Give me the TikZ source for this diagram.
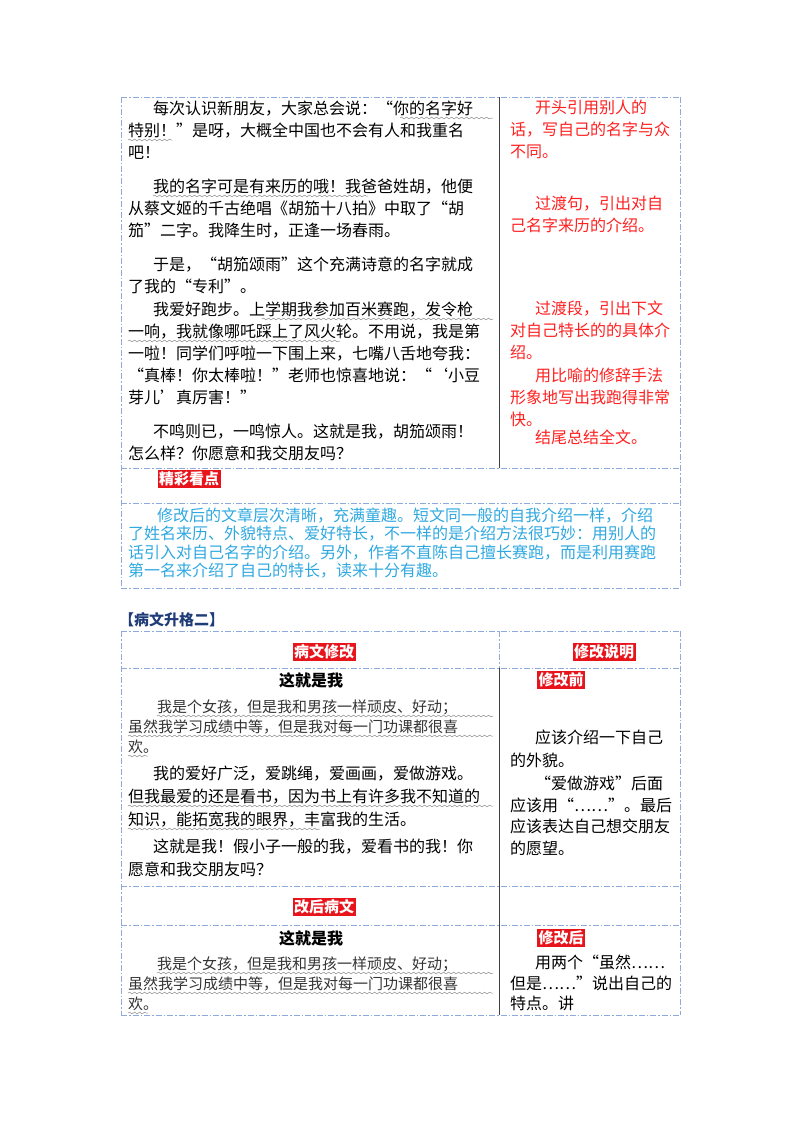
\documentclass[tikz,border=0pt]{standalone}
\usepackage{fontspec}
\setmainfont{Noto Sans CJK SC}
\usetikzlibrary{decorations.pathmorphing}
\XeTeXlinebreaklocale "zh"
\XeTeXlinebreakskip=0pt plus 8pt
\definecolor{bord}{HTML}{8EA9DB}
\definecolor{redtxt}{HTML}{FF2020}
\definecolor{bluetxt}{HTML}{2FA8E0}
\definecolor{labred}{HTML}{E8141C}
\definecolor{ttl}{HTML}{1F3C78}
\tikzset{
  bline/.style={draw=bord,line width=0.8pt,dash pattern=on 6pt off 2pt on 1.5pt off 2pt},
  vsolid/.style={draw=black!75,line width=0.8pt},
  txt/.style={inner sep=0pt,anchor=base west,font=\fontsize{16}{20}\selectfont},
  rtxt/.style={txt,text=redtxt},
  btxt/.style={txt,text=bluetxt},
  ktxt/.style={txt,text=black!80,font=\fontsize{15}{18}\selectfont},
  lab/.style={fill=labred,text=white,font=\bfseries\fontsize{15}{17}\selectfont,inner sep=1.5pt},
  wavy/.style={draw=black!45,line width=0.5pt,decorate,decoration={snake,amplitude=0.9pt,segment length=5pt}}
}
\newcommand\jl[5][txt]{\node[#1] at (#2,#3+6) {\makebox[#4pt][s]{#5}};}
\newcommand\pl[4][txt]{\node[#1] at (#2,#3+6) {#4};}
\begin{document}
\begin{tikzpicture}[x=1pt,y=-1pt]
\useasboundingbox (0,0) rectangle (800,1132);
% ===== table 1 =====
\draw[bline] (121,97) -- (680,97);
\draw[bline] (121,97) -- (121,588);
\draw[bline] (680,97) -- (680,588);
\draw[bline] (121,468) -- (680,468);
\draw[bline] (121,503) -- (680,503);
\draw[bline] (121,588) -- (680,588);
\draw[vsolid] (499,97) -- (499,468);
% left text
\jl{153}{108}{340}{每次认识新朋友，大家总会说：“你的名字好}
\jl{128}{130}{365}{特别！”是呀，大概全中国也不会有人和我重名}
\pl{128}{152}{吧！}
\jl{153}{186}{340}{我的名字可是有来历的哦！我爸爸姓胡，他便}
\jl{128}{208}{365}{从蔡文姬的千古绝唱《胡笳十八拍》中取了“胡}
\pl{128}{230}{笳”二字。我降生时，正逢一场春雨。}
\jl{153}{264}{340}{于是，“胡笳颂雨”这个充满诗意的名字就成}
\pl{128}{286}{了我的“专利”。}
\jl{153}{309}{340}{我爱好跑步。上学期我参加百米赛跑，发令枪}
\jl{128}{331}{365}{一响，我就像哪吒踩上了风火轮。不用说，我是第}
\jl{128}{353}{365}{一啦！同学们呼啦一下围上来，七嘴八舌地夸我：}
\jl{128}{375}{365}{“真棒！你太棒啦！”老师也惊喜地说：“‘小豆}
\pl{128}{397}{芽儿’真厉害！”}
\jl{153}{431}{340}{不鸣则已，一鸣惊人。这就是我，胡笳颂雨！}
\pl{128}{453}{怎么样？你愿意和我交朋友吗？}
% wavy underlines
\draw[wavy] (400,118) -- (493,118);
\draw[wavy] (128,140) -- (172,140);
\draw[wavy] (153,196) -- (368,196);
\draw[wavy] (262,319) -- (493,319);
\draw[wavy] (128,341) -- (340,341);
% right red
\jl[rtxt]{535}{107}{141}{开头引用别人的}
\jl[rtxt]{510}{129}{166}{话，写自己的名字与众}
\pl[rtxt]{510}{151}{不同。}
\jl[rtxt]{535}{203}{141}{过渡句，引出对自}
\pl[rtxt]{510}{225}{己名字来历的介绍。}
\jl[rtxt]{535}{308}{141}{过渡段，引出下文}
\jl[rtxt]{510}{330}{166}{对自己特长的的具体介}
\pl[rtxt]{510}{352}{绍。}
\jl[rtxt]{535}{375}{141}{用比喻的修辞手法}
\jl[rtxt]{510}{397}{166}{形象地写出我跑得非常}
\pl[rtxt]{510}{419}{快。}
\pl[rtxt]{535}{437}{结尾总结全文。}
\node[lab] (l1) at (189,479) {精彩看点};
% blue text
\jl[btxt]{157}{515}{519}{修改后的文章层次清晰，充满童趣。短文同一般的自我介绍一样，介绍}
\jl[btxt]{128}{533}{548}{了姓名来历、外貌特点、爱好特长，不一样的是介绍方法很巧妙：用别人的}
\jl[btxt]{128}{552}{548}{话引入对自己名字的介绍。另外，作者不直陈自己擅长赛跑，而是利用赛跑}
\pl[btxt]{128}{570}{第一名来介绍了自己的特长，读来十分有趣。}
% ===== section 2 =====
\node[anchor=west,inner sep=0pt,text=ttl,font=\bfseries\fontsize{15}{18}\selectfont] (t2) at (119,620) {【病文升格二】};
\draw[bline] (121,631) -- (680,631);
\draw[bline] (121,631) -- (121,1015);
\draw[bline] (680,631) -- (680,1015);
\draw[bline] (121,668) -- (680,668);
\draw[bline] (499,631) -- (499,668);
\draw[bline] (121,886) -- (680,886);
\draw[bline] (121,925) -- (680,925);
\draw[bline] (121,1015) -- (680,1015);
\draw[vsolid] (499,668) -- (499,1015);
\node[lab] (h1) at (324,652) {病文修改};
\node[lab] (h2) at (604,652) {修改说明};
\node[lab] (h3) at (561,680) {修改前};
\node[lab] (h4) at (324,907) {改后病文};
\node[lab] (h5) at (561,938) {修改后};
\node[inner sep=0pt,font=\bfseries\fontsize{16}{20}\selectfont] (ttA) at (311,680) {这就是我};
\node[inner sep=0pt,font=\bfseries\fontsize{16}{20}\selectfont] (ttB) at (311,938) {这就是我};
% left text table 2
\jl[ktxt]{157}{706}{336}{我是个女孩，但是我和男孩一样顽皮、好动；}
\jl[ktxt]{128}{726}{365}{虽然我学习成绩中等，但是我对每一门功课都很喜}
\pl[ktxt]{128}{746}{欢。}
\jl{153}{773}{340}{我的爱好广泛，爱跳绳，爱画画，爱做游戏。}
\jl{128}{796}{365}{但我最爱的还是看书，因为书上有许多我不知道的}
\pl{128}{819}{知识，能拓宽我的眼界，丰富我的生活。}
\jl{153}{846}{340}{这就是我！假小子一般的我，爱看书的我！你}
\pl{128}{869}{愿意和我交朋友吗？}
\jl[ktxt]{157}{963}{336}{我是个女孩，但是我和男孩一样顽皮、好动；}
\jl[ktxt]{128}{983}{365}{虽然我学习成绩中等，但是我对每一门功课都很喜}
\pl[ktxt]{128}{1003}{欢。}
\draw[wavy] (157,716) -- (493,716);
\draw[wavy] (128,736) -- (493,736);
\draw[wavy] (128,756) -- (148,756);
\draw[wavy] (128,806) -- (493,806);
\draw[wavy] (128,829) -- (320,829);
\draw[wavy] (157,973) -- (493,973);
\draw[wavy] (128,993) -- (493,993);
\draw[wavy] (128,1013) -- (148,1013);
% right text table 2
\jl{535}{737}{141}{应该介绍一下自己}
\pl{510}{760}{的外貌。}
\jl{535}{783}{141}{“爱做游戏”后面}
\jl{510}{805}{166}{应该用“……”。最后}
\jl{510}{826}{166}{应该表达自己想交朋友}
\pl{510}{848}{的愿望。}
\jl{535}{962}{141}{用两个“虽然……}
\jl{510}{983}{166}{但是……”说出自己的}
\pl{510}{1003}{特点。讲}
\end{tikzpicture}
\end{document}
